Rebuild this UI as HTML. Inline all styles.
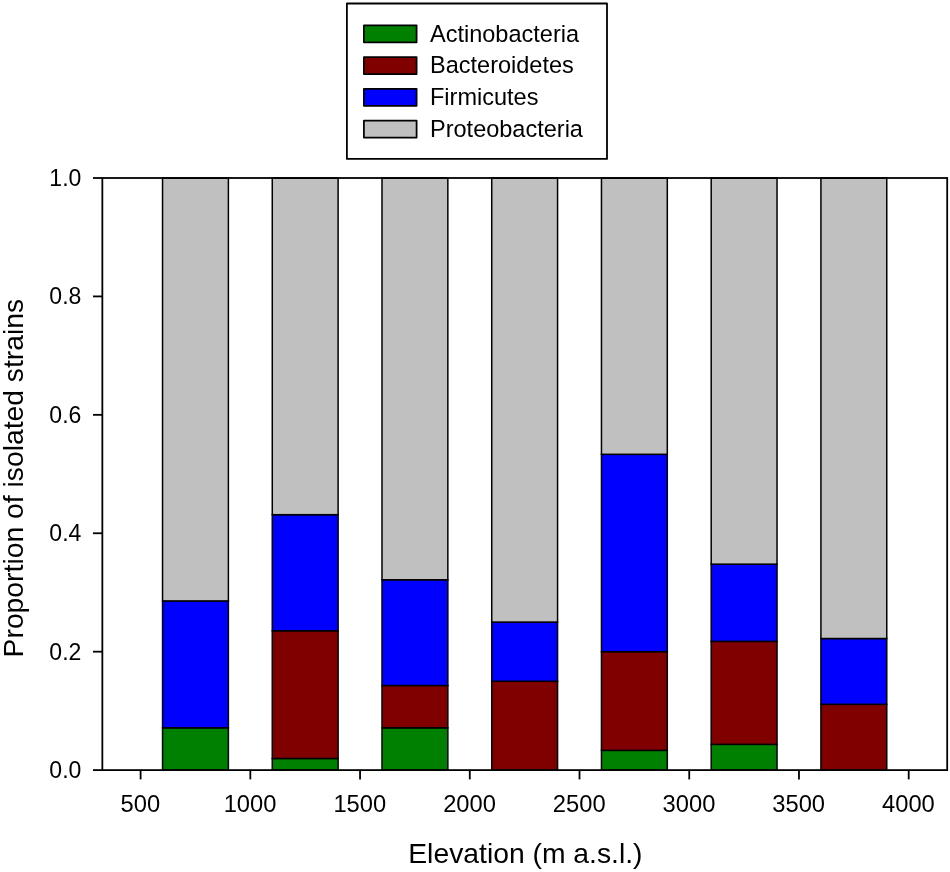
<!DOCTYPE html>
<html><head><meta charset="utf-8"><title>Proportion of isolated strains by elevation</title>
<style>html,body{margin:0;padding:0;background:#fff}svg{display:block}text{font-family:"Liberation Sans",Arial,sans-serif;fill:#000}</style></head>
<body>
<svg width="950" height="872" viewBox="0 0 950 872">
<rect width="950" height="872" fill="#fff"/>
<g stroke="#000" stroke-width="1.5" stroke-linejoin="miter">
<rect x="162.55" y="727.81" width="65.84" height="42.29" fill="#008000"/>
<rect x="162.55" y="600.93" width="65.84" height="126.88" fill="#0000ff"/>
<rect x="162.55" y="178.00" width="65.84" height="422.93" fill="#c0c0c0"/>
<rect x="272.27" y="758.49" width="65.84" height="11.61" fill="#008000"/>
<rect x="272.27" y="630.78" width="65.84" height="127.71" fill="#800000"/>
<rect x="272.27" y="514.68" width="65.84" height="116.10" fill="#0000ff"/>
<rect x="272.27" y="178.00" width="65.84" height="336.68" fill="#c0c0c0"/>
<rect x="382.00" y="727.81" width="65.84" height="42.29" fill="#008000"/>
<rect x="382.00" y="685.51" width="65.84" height="42.29" fill="#800000"/>
<rect x="382.00" y="579.78" width="65.84" height="105.73" fill="#0000ff"/>
<rect x="382.00" y="178.00" width="65.84" height="401.78" fill="#c0c0c0"/>
<rect x="491.73" y="681.29" width="65.84" height="88.81" fill="#800000"/>
<rect x="491.73" y="622.08" width="65.84" height="59.21" fill="#0000ff"/>
<rect x="491.73" y="178.00" width="65.84" height="444.08" fill="#c0c0c0"/>
<rect x="601.46" y="750.36" width="65.84" height="19.74" fill="#008000"/>
<rect x="601.46" y="651.68" width="65.84" height="98.68" fill="#800000"/>
<rect x="601.46" y="454.31" width="65.84" height="197.37" fill="#0000ff"/>
<rect x="601.46" y="178.00" width="65.84" height="276.31" fill="#c0c0c0"/>
<rect x="711.19" y="744.36" width="65.84" height="25.74" fill="#008000"/>
<rect x="711.19" y="641.38" width="65.84" height="102.97" fill="#800000"/>
<rect x="711.19" y="564.15" width="65.84" height="77.23" fill="#0000ff"/>
<rect x="711.19" y="178.00" width="65.84" height="386.15" fill="#c0c0c0"/>
<rect x="820.92" y="704.31" width="65.84" height="65.79" fill="#800000"/>
<rect x="820.92" y="638.52" width="65.84" height="65.79" fill="#0000ff"/>
<rect x="820.92" y="178.00" width="65.84" height="460.52" fill="#c0c0c0"/>
</g>
<g stroke="#000" stroke-width="1.8" fill="none" stroke-linecap="butt">
<rect x="102.35" y="178.00" width="844.85" height="592.10"/>
<line x1="93" x2="102.35" y1="770.10" y2="770.10"/>
<line x1="93" x2="102.35" y1="651.68" y2="651.68"/>
<line x1="93" x2="102.35" y1="533.26" y2="533.26"/>
<line x1="93" x2="102.35" y1="414.84" y2="414.84"/>
<line x1="93" x2="102.35" y1="296.42" y2="296.42"/>
<line x1="93" x2="102.35" y1="178.00" y2="178.00"/>
<line x1="140.60" x2="140.60" y1="770.10" y2="779.4"/>
<line x1="250.33" x2="250.33" y1="770.10" y2="779.4"/>
<line x1="360.06" x2="360.06" y1="770.10" y2="779.4"/>
<line x1="469.79" x2="469.79" y1="770.10" y2="779.4"/>
<line x1="579.51" x2="579.51" y1="770.10" y2="779.4"/>
<line x1="689.24" x2="689.24" y1="770.10" y2="779.4"/>
<line x1="798.97" x2="798.97" y1="770.10" y2="779.4"/>
<line x1="908.70" x2="908.70" y1="770.10" y2="779.4"/>
</g>
<g font-size="24">
<text transform="translate(81.4 777.95) scale(0.96 1)" text-anchor="end">0.0</text>
<text transform="translate(81.4 659.53) scale(0.96 1)" text-anchor="end">0.2</text>
<text transform="translate(81.4 541.11) scale(0.96 1)" text-anchor="end">0.4</text>
<text transform="translate(81.4 422.69) scale(0.96 1)" text-anchor="end">0.6</text>
<text transform="translate(81.4 304.27) scale(0.96 1)" text-anchor="end">0.8</text>
<text transform="translate(81.4 185.85) scale(0.96 1)" text-anchor="end">1.0</text>
<text transform="translate(140.30 811.5) scale(0.988 1)" text-anchor="middle">500</text>
<text transform="translate(250.03 811.5) scale(0.988 1)" text-anchor="middle">1000</text>
<text transform="translate(359.76 811.5) scale(0.988 1)" text-anchor="middle">1500</text>
<text transform="translate(469.49 811.5) scale(0.988 1)" text-anchor="middle">2000</text>
<text transform="translate(579.21 811.5) scale(0.988 1)" text-anchor="middle">2500</text>
<text transform="translate(688.94 811.5) scale(0.988 1)" text-anchor="middle">3000</text>
<text transform="translate(798.67 811.5) scale(0.988 1)" text-anchor="middle">3500</text>
<text transform="translate(908.40 811.5) scale(0.988 1)" text-anchor="middle">4000</text>
</g>
<text x="525.4" y="862.6" font-size="28.3" text-anchor="middle">Elevation (m a.s.l.)</text>
<text transform="translate(22.9 478.1) rotate(-90)" font-size="28.3" text-anchor="middle">Proportion of isolated strains</text>
<rect x="346.9" y="3.5" width="260.1" height="155.4" fill="#fff" stroke="#000" stroke-width="1.8" stroke-linejoin="round"/>
<rect x="363.9" y="25.40" width="52.7" height="16.9" fill="#008000" stroke="#000" stroke-width="1.75" stroke-linejoin="round"/>
<text x="430" y="41.50" font-size="23.53">Actinobacteria</text>
<rect x="363.9" y="57.15" width="52.7" height="16.9" fill="#800000" stroke="#000" stroke-width="1.75" stroke-linejoin="round"/>
<text x="430" y="73.25" font-size="23.53">Bacteroidetes</text>
<rect x="363.9" y="88.90" width="52.7" height="16.9" fill="#0000ff" stroke="#000" stroke-width="1.75" stroke-linejoin="round"/>
<text x="430" y="105.00" font-size="23.53">Firmicutes</text>
<rect x="363.9" y="120.65" width="52.7" height="16.9" fill="#c0c0c0" stroke="#000" stroke-width="1.75" stroke-linejoin="round"/>
<text x="430" y="136.75" font-size="23.53">Proteobacteria</text>
</svg>
</body></html>
